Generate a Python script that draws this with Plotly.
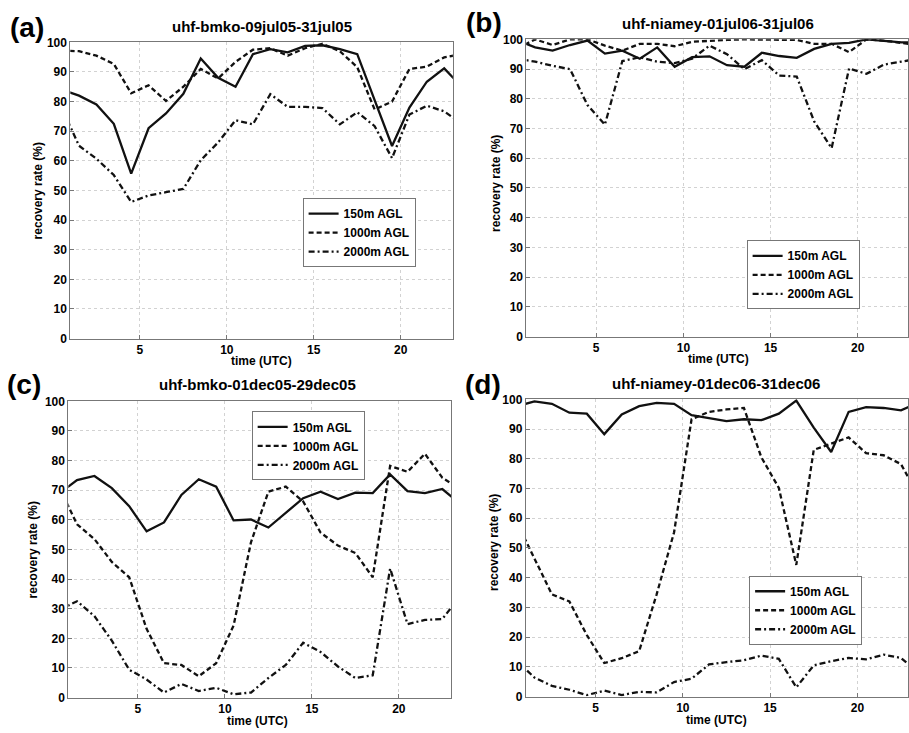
import plotly.graph_objects as go

# ---------------- data ----------------
hours = [0.5, 1.5, 2.5, 3.5, 4.5, 5.5, 6.5, 7.5, 8.5, 9.5, 10.5, 11.5,
         12.5, 13.5, 14.5, 15.5, 16.5, 17.5, 18.5, 19.5, 20.5, 21.5, 22.5, 23.5]

series_names = ["150m AGL", "1000m AGL", "2000m AGL"]

panel_titles = ["uhf-bmko-09jul05-31jul05", "uhf-niamey-01jul06-31jul06",
                "uhf-bmko-01dec05-29dec05", "uhf-niamey-01dec06-31dec06"]
panel_letters = ["(a)", "(b)", "(c)", "(d)"]

a_150 = [84, 82, 79, 72.5, 55.7, 71, 76, 82.6, 94.5, 88, 85, 96,
         97.7, 96.6, 98.8, 99, 97.7, 96, 80.5, 65, 78, 86.7, 91.2, 85]
a_1000 = [97.2, 97, 95.5, 92.7, 82.8, 85.5, 80.2, 85, 91, 87.8, 93.4, 97.5,
          98, 95.5, 98, 99.5, 97, 91.6, 77.3, 80, 91, 91.8, 94.9, 96]
a_2000 = [78, 65.1, 60.7, 55.2, 46.1, 48.3, 49.4, 50.5, 60.2, 66.2, 73.7, 72.3,
          82.5, 78.2, 78.2, 77.8, 72.3, 76.4, 71.7, 60.9, 75.6, 78.6, 76.7, 72.5]

b_150 = [99.7, 97.3, 96.2, 98.1, 99.6, 95.2, 96.2, 93.5, 97.3, 90.8, 94, 94.3,
         91.3, 90.8, 95.5, 94.4, 93.8, 96.8, 98.5, 98.8, 100, 99.6, 99, 99]
b_1000 = [97, 100, 98.1, 100, 100, 97.9, 96.2, 98.5, 98.5, 97.7, 99.2, 99.6,
          99.8, 100, 100, 100, 99.8, 98.5, 98.5, 95.7, 100, 99.6, 98.8, 98]
b_2000 = [93.5, 92.5, 91.1, 90, 77.9, 71.3, 92.7, 94, 92.5, 92, 93.5, 97.9,
          95, 90, 93, 87.8, 87.5, 72.4, 63.4, 90.2, 88.4, 91.5, 92.5, 93.5]

c_150 = [69, 73.4, 74.8, 70.7, 64.6, 56.1, 59.1, 68.4, 73.7, 71.2, 59.8, 60.1,
         57.4, 62.3, 67.3, 69.5, 67, 69.2, 69, 75.3, 69.7, 69, 70.4, 65.5]
c_1000 = [70.7, 58.5, 53.5, 45.8, 40.6, 23.2, 11.6, 11, 7.2, 11.6, 24.3, 52.4,
          69.5, 71.2, 66.2, 55.7, 51.3, 48.8, 40.6, 78.2, 76.2, 82.3, 74.2, 70.5]
c_2000 = [29.7, 32.5, 27.5, 19.2, 9.4, 6.1, 1.7, 4.6, 2.2, 3.3, 1.1, 1.7,
          6.6, 11, 18.5, 15.4, 10.5, 6.6, 7.5, 43.6, 24.8, 26.2, 26.5, 34]

d_150 = [97.7, 99.3, 98.5, 95.5, 95.2, 88.3, 94.9, 97.7, 98.8, 98.5, 94.7, 93.8,
         92.7, 93.3, 93, 95.2, 99.6, 90.5, 82.3, 95.8, 97.4, 97.1, 96.3, 99]
d_1000 = [58.5, 46.5, 34.4, 32, 20.7, 11.3, 12.9, 15.3, 34.4, 55.3, 93.3, 95.8,
          96.6, 97.1, 80.5, 70.2, 44.3, 83, 85.2, 87.2, 81.9, 81.2, 78.2, 67.5]
d_2000 = [12, 6.4, 3.6, 2.3, 0.5, 2, 0.5, 1.6, 1.4, 4.9, 6, 10.8,
          11.6, 12.2, 13.8, 12.7, 3.1, 10.5, 11.9, 13, 12.5, 14.1, 13, 8]

x_ticks = [5, 10, 15, 20]
y_ticks = [0, 10, 20, 30, 40, 50, 60, 70, 80, 90, 100]

panels = [[a_150, a_1000, a_2000], [b_150, b_1000, b_2000],
          [c_150, c_1000, c_2000], [d_150, d_1000, d_2000]]

# ---------------- layout geometry ----------------
W, H = 909, 733
FONT = "Liberation Sans, Arial, sans-serif"

def px(x):
    return x / W

def py(y):
    return 1 - y / H

# plot area pixel boxes: left, right, top, bottom ; x range
boxes = [
    (70.4, 453.4, 36, 338, [1, 23]),
    (527, 909, 33, 336, [1, 22.88]),
    (68.4, 451.5, 402, 704, [1, 23]),
    (526.3, 909, 400, 703, [1, 22.9]),
]
title_pos = [(262, 20), (719, 17), (258, 385), (717, 384)]
letter_pos = [(27, 21), (485, 16), (24, 385), (484, 385)]
xlab_pos = [(262, 361), (719, 359), (258, 728), (717, 727)]
ylab_pos = [(38, 187), (496, 180), (33, 553), (494, 546)]
legend_center = [(359.5, 230), (804, 273), (308.5, 447.5), (806.5, 615)]

dashes = ["solid", "5px,3px", "6px,3px,2px,3px"]

fig = go.Figure()
annotations = []
layout = dict(
    width=W, height=H, margin=dict(l=0, r=0, t=0, b=0),
    paper_bgcolor="white", plot_bgcolor="white",
    font=dict(family=FONT, color="black"),
    showlegend=True,
)

for i, vals in enumerate(panels):
    k = "" if i == 0 else str(i + 1)
    xa, ya = "x" + k, "y" + k
    leg = "legend" + k
    for s, (name, v) in enumerate(zip(series_names, vals)):
        fig.add_trace(go.Scatter(
            x=hours, y=v, mode="lines", name=name,
            line=dict(color="#111111", width=2.3, dash=dashes[s]),
            xaxis=xa, yaxis=ya, legend=leg, cliponaxis=True,
        ))
    l, r, t, b, xr = boxes[i]
    axis_common = dict(
        showline=True, mirror=True, linecolor="#777777", linewidth=1,
        showgrid=True, gridcolor="#d2d2d2", griddash="dot", gridwidth=1,
        zeroline=False, ticks="inside", ticklen=4, tickcolor="#777777",
        tickfont=dict(family=FONT, size=12, weight="bold", color="black"),
    )
    layout["xaxis" + k] = dict(
        axis_common, domain=[px(l), min(px(r), 1.0)], range=xr,
        tickvals=x_ticks, anchor=ya, fixedrange=True,
    )
    layout["yaxis" + k] = dict(
        axis_common, domain=[py(b), py(t)], range=[0, 100],
        tickvals=y_ticks, anchor=xa, fixedrange=True,
    )
    lx, ly = legend_center[i]
    layout[leg] = dict(
        x=px(lx), y=py(ly), xanchor="center", yanchor="middle",
        xref="paper", yref="paper",
        bgcolor="white", bordercolor="#777777", borderwidth=1,
        font=dict(family=FONT, size=12, weight="bold", color="black"),
        tracegroupgap=0, itemwidth=30,
    )
    tx, ty = title_pos[i]
    annotations.append(dict(
        text=panel_titles[i], x=px(tx), y=py(ty), xref="paper", yref="paper",
        showarrow=False, xanchor="center", yanchor="middle",
        font=dict(family=FONT, size=15, weight="bold", color="black")))
    cx, cy = letter_pos[i]
    annotations.append(dict(
        text=panel_letters[i], x=px(cx), y=py(cy), xref="paper", yref="paper",
        showarrow=False, xanchor="center", yanchor="middle",
        font=dict(family=FONT, size=28, weight="bold", color="black")))
    xx, xy = xlab_pos[i]
    annotations.append(dict(
        text="time (UTC)", x=px(xx), y=py(xy), xref="paper", yref="paper",
        showarrow=False, xanchor="center", yanchor="middle",
        font=dict(family=FONT, size=12, weight="bold", color="black")))
    yx, yy = ylab_pos[i]
    annotations.append(dict(
        text="recovery rate (%)", x=px(yx), y=py(yy), xref="paper", yref="paper",
        showarrow=False, xanchor="center", yanchor="middle", textangle=-90,
        font=dict(family=FONT, size=12, weight="bold", color="black")))

layout["annotations"] = annotations
fig.update_layout(**layout)
fig.write_html("out.html")
